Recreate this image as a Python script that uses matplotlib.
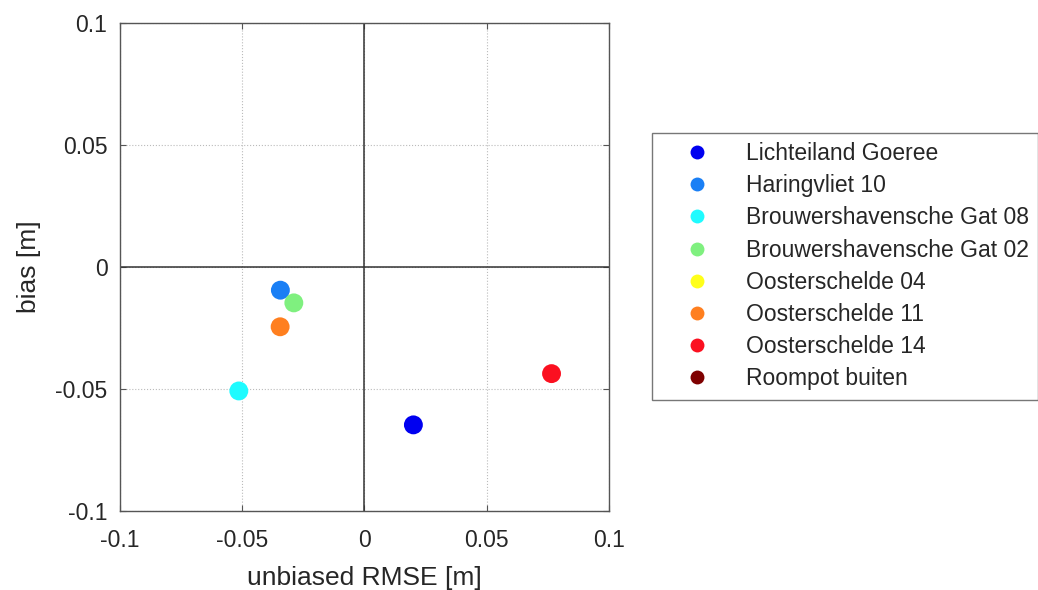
import numpy as np
import matplotlib
matplotlib.use("Agg")
import matplotlib.pyplot as plt
from matplotlib.lines import Line2D

plt.rcParams['font.family'] = ['Liberation Sans', 'DejaVu Sans']

# station statistics (nan = no data)
stations = ["Lichteiland Goeree", "Haringvliet 10", "Brouwershavensche Gat 08",
            "Brouwershavensche Gat 02", "Oosterschelde 04", "Oosterschelde 11",
            "Oosterschelde 14", "Roompot buiten"]
urmse = [0.020, -0.0344, -0.0514, -0.0289, np.nan, -0.0345, 0.0765, np.nan]
bias = [-0.0647, -0.0095, -0.0508, -0.0147, np.nan, -0.0245, -0.0437, np.nan]
colors = ["#0000f0", "#1a7ff5", "#1ffbff", "#7ff07f", "#ffff1a", "#ff7f1f",
          "#fb1020", "#7f0000"]

fig = plt.figure(figsize=(10.38, 5.90), dpi=100)
ax = fig.add_axes([0.1156, 0.1339, 0.4711, 0.8271])

for xv, yv, c in zip(urmse, bias, colors):
    ax.scatter(xv, yv, s=185, color=c, edgecolors='none', zorder=3)

ax.axhline(0, color='#333333', lw=1.1, zorder=2)
ax.axvline(0, color='#333333', lw=1.1, zorder=2)

ax.set_xlim(-0.1, 0.1)
ax.set_ylim(-0.1, 0.1)
ticks = [-0.1, -0.05, 0, 0.05, 0.1]
ticklabels = ["-0.1", "-0.05", "0", "0.05", "0.1"]
ax.set_xticks(ticks, ticklabels)
ax.set_yticks(ticks, ticklabels)
ax.tick_params(direction='in', length=4, width=0.8, color='#555555',
               labelsize=16.5, labelcolor='#262626', top=True, right=True)
ax.tick_params(axis='x', pad=13)
ax.tick_params(axis='y', pad=9)
ax.grid(True, color='#bbbbbb', ls=':', lw=0.8)
for s in ax.spines.values():
    s.set_color('#555555')
    s.set_linewidth(1.0)

ax.set_xlabel("unbiased RMSE [m]", fontsize=19, color='#262626', labelpad=10)
ax.set_ylabel("bias [m]", fontsize=19, color='#262626', labelpad=10)

handles = [Line2D([], [], ls='none', marker='o', markersize=10, color=c,
                  markeredgewidth=0) for c in colors]
leg = fig.legend(handles, stations, loc='upper left',
                 bbox_to_anchor=(652 / 1038, 1 - 133 / 590),
                 fontsize=16.5, frameon=True, fancybox=False, edgecolor='#555555',
                 handlelength=3.13, handletextpad=0.55, borderpad=0.4,
                 labelspacing=0.40, borderaxespad=0)
leg.get_frame().set_linewidth(1.0)
for t in leg.get_texts():
    t.set_color('#262626')

plt.savefig("out.png", dpi=100)
